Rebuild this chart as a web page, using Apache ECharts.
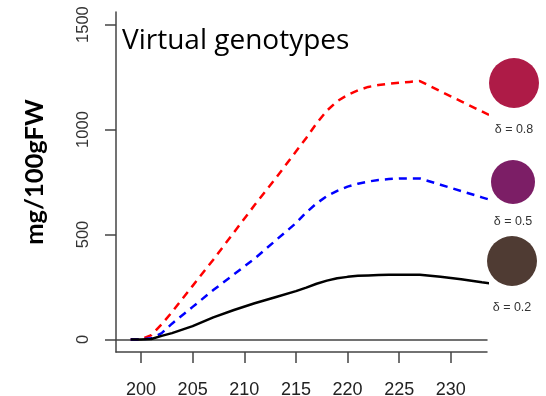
<!DOCTYPE html>
<html>
<head>
<meta charset="utf-8">
<script src="https://cdn.jsdelivr.net/npm/echarts@6/dist/echarts.min.js"></script>
<style>html,body{margin:0;padding:0;background:#fff}#c{width:546px;height:396px}</style>
</head>
<body>
<div id="c"></div>
<script>
const days   = [199, 200, 201, 202, 203, 205, 207, 209, 211, 213, 215, 216, 217, 218, 219, 220, 221, 222, 223, 224, 225, 226, 227, 229, 231, 233, 234];
const high   = [0, 0, 20, 72, 130, 255, 380, 510, 640, 765, 895, 960, 1030, 1090, 1135, 1165, 1187, 1203, 1212, 1218, 1223, 1227, 1231, 1182, 1134, 1086, 1062];
const mid    = [0, 0, 5, 30, 75, 155, 235, 310, 385, 470, 554, 605, 648, 683, 708, 728, 742, 752, 760, 764, 767, 767, 767, 737, 707, 677, 662];
const low    = [0, 0, 2, 17, 30, 63, 105, 140, 172, 201, 230, 247, 265, 280, 291, 298, 303, 305, 307, 308, 308, 308, 308, 298, 287, 272, 265];
const xTicks = [200, 205, 210, 215, 220, 225, 230];
const yTicks = [0, 500, 1000, 1500];
const legendItems = [
  {label: 'δ = 0.8', color: '#AE1B47'},
  {label: 'δ = 0.5', color: '#7C1E66'},
  {label: 'δ = 0.2', color: '#4F3B33'}
];

const pairs = arr => days.map((d, i) => [d, arr[i]]);
const chart = echarts.init(document.getElementById('c'), null, {renderer: 'canvas'});
const axisCol = '#444';
chart.setOption({
  animation: false,
  grid: {left: 116, top: 12, right: 59, bottom: 44, containLabel: false, outerBoundsMode: 'none'},
  xAxis: [{
    type: 'value', min: 197.58, max: 233.5,
    axisLine: {show: true, onZero: false, lineStyle: {color: axisCol, width: 1.5}},
    axisTick: {show: true, length: 11, customValues: xTicks, lineStyle: {color: axisCol, width: 1.5}},
    axisLabel: {customValues: xTicks, fontSize: 18, color: '#222', margin: 29, fontFamily: 'Liberation Sans', formatter: v => String(v)},
    splitLine: {show: false}
  }, {
    type: 'value', position: 'top', min: 197.58, max: 233.5,
    axisLine: {show: true, lineStyle: {color: axisCol, width: 1.5}},
    axisTick: {show: false}, axisLabel: {show: false}, splitLine: {show: false}
  }],
  yAxis: {
    type: 'value', min: -60, max: 1560,
    axisLine: {show: true, onZero: false, lineStyle: {color: axisCol, width: 1.5}},
    axisTick: {show: true, length: 11, customValues: yTicks, lineStyle: {color: axisCol, width: 1.5}},
    axisLabel: {customValues: yTicks, rotate: 90, fontSize: 16.5, color: '#333', margin: 24, fontFamily: 'Liberation Sans', formatter: v => String(v)},
    splitLine: {show: false}
  },
  series: [
    {type: 'line', data: pairs(high), symbol: 'none', lineStyle: {color: '#FF0000', width: 2.5, type: [8, 6]}},
    {type: 'line', data: pairs(mid), symbol: 'none', lineStyle: {color: '#0000FF', width: 2.5, type: [8, 6]}},
    {type: 'line', data: pairs(low), symbol: 'none', lineStyle: {color: '#000000', width: 2.5}}
  ],
  graphic: [
    {type: 'text', left: 122, top: 27, style: {text: 'Virtual genotypes', font: '28px "Open Sans"', fill: '#000'}},
    {type: 'text', x: 35, y: 172, rotation: Math.PI / 2,
     style: {text: 'mg/100gFW', font: 'bold 25.5px Lato', fill: '#000', align: 'center', verticalAlign: 'middle'}},
    {type: 'circle', shape: {cx: 514, cy: 83, r: 25}, style: {fill: legendItems[0].color}},
    {type: 'text', x: 514, y: 130, style: {text: legendItems[0].label, font: '12.5px "Liberation Sans"', fill: '#333', align: 'center', verticalAlign: 'middle'}},
    {type: 'circle', shape: {cx: 513, cy: 182, r: 22}, style: {fill: legendItems[1].color}},
    {type: 'text', x: 513, y: 222, style: {text: legendItems[1].label, font: '12.5px "Liberation Sans"', fill: '#333', align: 'center', verticalAlign: 'middle'}},
    {type: 'circle', shape: {cx: 512, cy: 261, r: 25}, style: {fill: legendItems[2].color}},
    {type: 'text', x: 512, y: 308, style: {text: legendItems[2].label, font: '12.5px "Liberation Sans"', fill: '#333', align: 'center', verticalAlign: 'middle'}}
  ]
});
</script>
</body>
</html>
